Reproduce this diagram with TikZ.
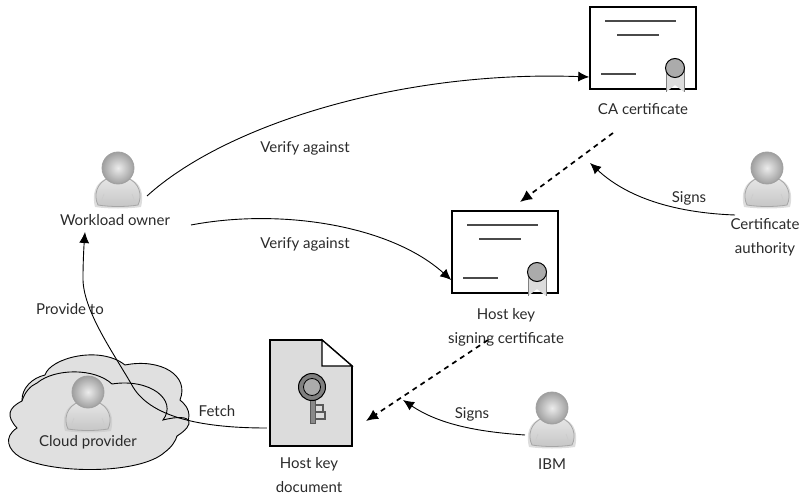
\documentclass[tikz,border=0pt]{standalone}
\usepackage{fontspec}
\setmainfont{Lato}
\usetikzlibrary{arrows.meta,calc}
\definecolor{docgray}{HTML}{DCDCDC}
\definecolor{cloudgray}{HTML}{E0E0E0}
\definecolor{sealgray}{HTML}{ABABAB}
\definecolor{linegray}{HTML}{4A4A4A}
\definecolor{txt}{HTML}{2A2A2A}
\tikzset{
  x=1pt,y=-1pt,
  lbl/.style={font=\fontsize{15}{24}\selectfont,text=txt,align=center,inner sep=0pt},
  conn/.style={line width=0.9pt,-{Latex[length=11pt,width=10pt]}},
  connplain/.style={line width=0.9pt},
  dashconn/.style={line width=1.7pt,dash pattern=on 5pt off 4.5pt,-{Latex[length=12pt,width=11pt]}},
  anchorbox/.style={inner sep=0pt,minimum width=#1,minimum height=#1},
  certbox/.style={draw=black,line width=1.5pt,fill=white,minimum width=106pt,minimum height=82pt,inner sep=0pt},
  certline/.style={draw=linegray,line width=2.6pt},
  pics/person/.style={code={
    \fill[gray!45,opacity=.6] (-23,39) .. controls (-26,28) and (-24,14) .. (-10,10) -- (10,10) .. controls (24,14) and (26,28) .. (23,39) .. controls (10,41) and (-10,41) .. (-23,39) -- cycle;
    \shade[top color=white!80!gray,bottom color=gray!45,draw=gray!70,line width=.8pt]
      (-20,37) .. controls (-25,27) and (-21,14) .. (-9,10) -- (9,10) .. controls (21,14) and (25,27) .. (20,37) .. controls (8,39) and (-8,39) .. (-20,37) -- cycle;
    \draw[gray!40,line width=.7pt] (-17,34) -- (-14,26) (17,34) -- (14,26);
    \shade[inner color=white!85!gray,outer color=gray!75,draw=gray!75,line width=.8pt] (0,0) circle (16);
  }},
  pics/seal/.style={code={
    \fill[docgray] (-9,0) -- (9,0) -- (9,24) -- (0,17) -- (-9,24) -- cycle;
    \draw[gray,line width=1pt] (-9,0) -- (-9,24) (9,0) -- (9,24);
    \draw[black,line width=1pt,fill=sealgray] (0,0) circle (9.5);
  }},
}
\begin{document}
\begin{tikzpicture}
\useasboundingbox (0,0) rectangle (808,497);
% clouds
\draw[line width=.9pt,fill=cloudgray] (22,400)
  .. controls (22,388) and (32,378) .. (45,375)
  .. controls (50,358) and (100,345) .. (125,365)
  .. controls (160,358) and (190,375) .. (180,400)
  .. controls (190,408) and (195,420) .. (177,436)
  -- (80,440) -- (22,420) -- cycle;
\draw[line width=.9pt,fill=cloudgray] (22,401)
  .. controls (8,408) and (6,416) .. (17,428)
  .. controls (3,437) and (8,450) .. (20,457)
  .. controls (50,474) and (140,475) .. (165,452)
  .. controls (172,447) and (176,440) .. (177,436)
  .. controls (195,425) and (195,412) .. (163,420)
  .. controls (178,400) and (150,378) .. (112,384)
  .. controls (95,368) and (55,368) .. (37,383)
  .. controls (30,386) and (25,392) .. (22,401) -- cycle;
% nodes
\node[anchorbox=46pt] (ownerfig) at (118,184) {};
\node[anchorbox=46pt] (authfig) at (767,184) {};
\node[anchorbox=46pt] (ibmfig) at (552,424) {};
\node[anchorbox=46pt] (cloudfig) at (88,408) {};
\pic at (118,168) {person};
\pic at (767,168) {person};
\pic at (552,408) {person};
\pic at (88,392) {person};
\node[certbox] (ca) at (643,48) {};
\node[certbox] (host) at (505,252) {};
\foreach \c/\dx/\dy in {ca/643/48,host/505/252}{
  \begin{scope}[shift={(\dx,\dy)}]
    \draw[certline] (-38,-27) -- (33,-27);
    \draw[certline] (-26,-13) -- (16,-13);
    \draw[certline] (-42,26) -- (-7,26);
    \pic at (32,20) {seal};
  \end{scope}
}
% document
\node[inner sep=0pt,minimum width=82pt,minimum height=106pt] (doc) at (311,393) {};
\draw[line width=1.6pt,fill=docgray] (270,340) -- (322,340) -- (352,366) -- (352,446) -- (270,446) -- cycle;
\draw[line width=1.2pt,fill=white] (322,340) -- (352,366) -- (322,366) -- cycle;
\fill[sealgray!80!black,draw=gray!70!black,line width=.8pt] (310,396) rectangle (315,423);
\draw[line width=1.3pt,draw=gray!70!black,fill=none] (315,405) -- (323,405) -- (323,412) -- (315,412) (315,412) -- (325,412) -- (325,419) -- (315,419);
\draw[line width=1pt,fill=gray] (312,387) circle (13.5);
\draw[line width=.8pt,fill=sealgray] (312,387) circle (8.5);
% labels
\node[lbl] (ownerlbl) at (115,220) {Workload owner};
\node[lbl] (calbl) at (643,109) {CA certificate};
\node[lbl] (authlbl) at (765,237) {Certificate\\authority};
\node[lbl] (hostlbl) at (506,327) {Host key\\signing certificate};
\node[lbl] (doclbl) at (309,475) {Host key\\document};
\node[lbl] (ibmlbl) at (552,464) {IBM};
\node[lbl] (cloudlbl) at (88,442) {Cloud provider};
\node[lbl] (v1) at (305,148) {Verify against};
\node[lbl] (v2) at (305,244) {Verify against};
\node[lbl] (s1) at (689,198) {Signs};
\node[lbl] (s2) at (472,414) {Signs};
\node[lbl] (pt) at (70,309) {Provide to};
\node[lbl] (fe) at (217,411) {Fetch};
% connector ends
\coordinate (caIn) at ($(ca.west)+(0,29)$);
\coordinate (hostIn) at ($(host.west)+(0,28)$);
\coordinate (ownerOut) at (147,196);
\coordinate (ownerOut2) at (191,225);
\coordinate (ownerIn) at (85,232);
\coordinate (docOut) at ($(doc.west)+(-3,35)$);
\coordinate (authOut) at (735,215);
\coordinate (caSignIn) at (590,163);
\coordinate (ibmOut) at (525,435);
\coordinate (hostSignIn) at (403,400);
\coordinate (d1a) at (613,133);
\coordinate (d1b) at (520,202);
\coordinate (d2a) at (488,340);
\coordinate (d2b) at (366,421);
% connectors
\draw[conn] (ownerOut) .. controls (225,125) and (400,70) .. (caIn);
\draw[conn] (ownerOut2) .. controls (280,208) and (390,225) .. (hostIn);
\draw[conn] (docOut) .. controls (195,428) and (150,415) .. (133,387)
  .. controls (115,355) and (82,310) .. (83,277) .. controls (83,262) and (84,245) .. (ownerIn);
\draw[conn] (authOut) .. controls (680,213) and (630,200) .. (caSignIn);
\draw[conn] (ibmOut) .. controls (480,432) and (440,425) .. (hostSignIn);
\draw[dashconn] (d1a) -- (d1b);
\draw[dashconn] (d2a) -- (d2b);
\end{tikzpicture}
\end{document}
